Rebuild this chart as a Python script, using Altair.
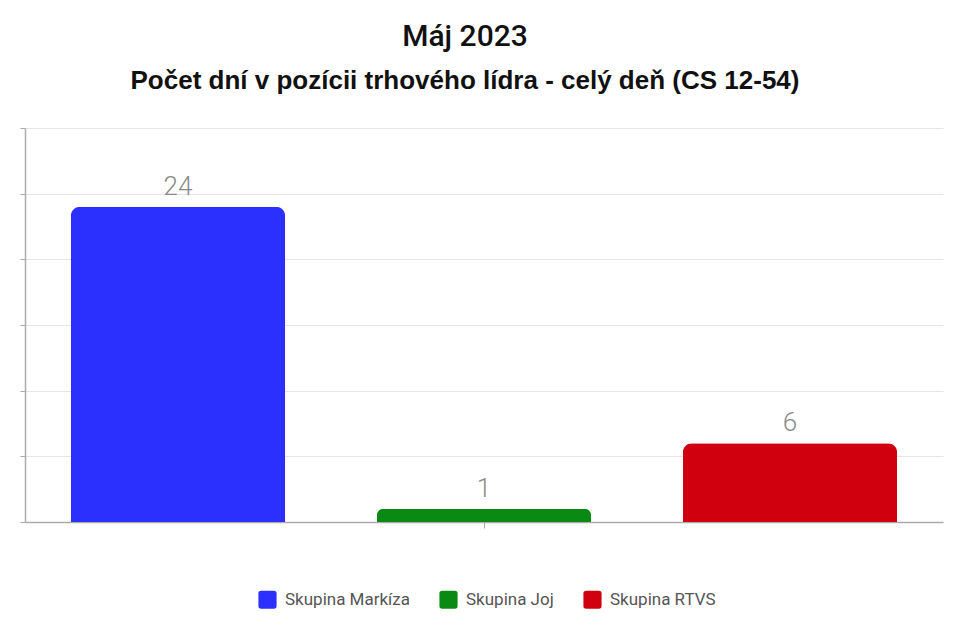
import altair as alt
import pandas as pd

groups = ["Skupina Markíza", "Skupina Joj", "Skupina RTVS"]
days = [24, 1, 6]
colors = ["#2b30ff", "#0a8a12", "#d0000f"]

df = pd.DataFrame({"skupina": groups, "dni": days})

rounded = ("M -0.7,-1 L 0.7,-1 Q 1,-1 1,-0.7 L 1,0.7 Q 1,1 0.7,1 "
           "L -0.7,1 Q -1,1 -1,0.7 L -1,-0.7 Q -1,-1 -0.7,-1 Z")

x = alt.X("skupina:N", sort=groups, title=None,
          scale=alt.Scale(paddingInner=0.3, paddingOuter=0.15),
          axis=alt.Axis(values=["Skupina Joj"], labels=False, tickSize=6,
                        tickColor="#aaaaaa", domainColor="#aaaaaa", domainWidth=1.5,
                        grid=False))
y = alt.Y("dni:Q", title=None,
          scale=alt.Scale(domain=[0, 30], nice=False),
          axis=alt.Axis(values=[0, 5, 10, 15, 20, 25, 30], labels=False, tickSize=5,
                        tickColor="#aaaaaa", domainColor="#aaaaaa", domainWidth=1.5,
                        gridColor="#e6e6e6", gridWidth=1.2))

bars = alt.Chart(df).mark_bar(cornerRadiusTopLeft=9, cornerRadiusTopRight=9).encode(
    x=x, y=y,
    color=alt.Color("skupina:N", sort=groups,
                    scale=alt.Scale(domain=groups, range=colors),
                    legend=alt.Legend(title=None, orient="none", direction="horizontal",
                                      legendX=233, legendY=462,
                                      symbolType=rounded, symbolSize=330,
                                      symbolStrokeWidth=0, symbolOpacity=1,
                                      labelFont="Roboto", labelFontSize=17,
                                      labelColor="#555555", columnPadding=29,
                                      labelOffset=8)),
)

labels = alt.Chart(df).mark_text(dy=-20, font="Roboto", fontSize=26,
                                 fontWeight=300, color="#8a8a8a").encode(
    x=alt.X("skupina:N", sort=groups), y="dni:Q", text="dni:Q")

chart = (bars + labels).properties(
    width=918, height=394,
    autosize=alt.AutoSizeParams(type="none"),
    padding={"left": 17, "top": 120, "right": 8, "bottom": 100},
    title=alt.TitleParams(
        text="Máj 2023",
        subtitle="Počet dní v pozícii trhového lídra - celý deň (CS 12-54)",
        anchor="middle", frame="group", dx=-19, offset=34,
        font="Roboto", fontSize=30, fontWeight=500, color="#111111",
        subtitleFont="Liberation Sans", subtitleFontSize=26,
        subtitleFontWeight="bold", subtitleColor="#111111",
        subtitlePadding=16),
).configure_view(stroke=None)

chart.save("out.html", embed_options={"renderer": "svg", "actions": False})
